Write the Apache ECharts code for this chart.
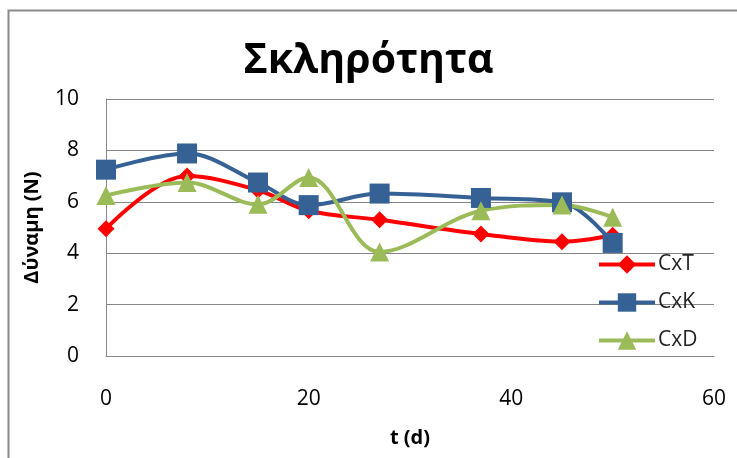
<!DOCTYPE html>
<html><head><meta charset="utf-8">
<script src="https://cdn.jsdelivr.net/npm/echarts@6/dist/echarts.min.js"></script>
<style>html,body{margin:0;padding:0;background:#fff}#c{width:737px;height:458px}</style>
</head><body><div id="c"></div>
<script>
const days = [0, 8, 15, 20, 27, 37, 45, 50];
const cxT = [4.95, 7.0, 6.45, 5.65, 5.3, 4.75, 4.45, 4.7];
const cxK = [7.25, 7.88, 6.75, 5.87, 6.32, 6.15, 5.98, 4.4];
const cxD = [6.25, 6.75, 5.9, 6.95, 4.05, 5.65, 5.88, 5.4];
const seriesNames = ['CxT', 'CxK', 'CxD'];
const xTicks = [0, 20, 40, 60];
const yTicks = [0, 2, 4, 6, 8, 10];

const font = "'Open Sans', 'Noto Sans', sans-serif";
function pairs(v){ return days.map((d,i)=>[d, v[i]]); }
const chart = echarts.init(document.getElementById('c'), null, {renderer:'canvas'});
const mk = (name, data, color, symbol, size) => ({
  name, type:'line', data: pairs(data), smooth:0.35, symbol, symbolSize:size,
  lineStyle:{color, width:4}, itemStyle:{color, borderWidth:0}
});
chart.setOption({
  animation:false,
  graphic:[{type:'rect', shape:{x:8.5,y:10.5,width:760,height:470}, style:{fill:'none', stroke:'#8a8a8a', lineWidth:2}}],
  title:{text:'Σκληρότητα', left:'center', top:36, textStyle:{fontFamily:font, fontSize:41, fontWeight:'bold', color:'#000'}},
  grid:{left:106, right:23, top:99, bottom:102},
  xAxis:{type:'value', min:xTicks[0], max:xTicks[xTicks.length-1], interval:20,
    name:'t (d)', nameLocation:'middle', nameGap:72,
    nameTextStyle:{fontFamily:font, fontSize:20, fontWeight:'bold', color:'#000'},
    axisLine:{show:true, lineStyle:{color:'#868686', width:1}}, axisTick:{show:false},
    splitLine:{show:false},
    axisLabel:{fontFamily:font, fontSize:21, color:'#000', margin:33}},
  yAxis:{type:'value', min:yTicks[0], max:yTicks[yTicks.length-1], interval:2,
    name:'Δύναμη (N)', nameLocation:'middle', nameGap:64, nameRotate:90,
    nameTextStyle:{fontFamily:font, fontSize:20, fontWeight:'bold', color:'#000'},
    axisLine:{show:true, lineStyle:{color:'#868686', width:1}}, axisTick:{show:false},
    splitLine:{show:true, lineStyle:{color:'#868686', width:1}},
    axisLabel:{fontFamily:font, fontSize:21, color:'#000', margin:27}},
  legend:{orient:'vertical', left:592, top:249, itemWidth:56, itemHeight:23, itemGap:17,
    data:seriesNames, lineStyle:{width:4},
    textStyle:{fontFamily:font, fontSize:21, color:'#222', padding:[0,0,0,-2]}},
  series:[
    mk(seriesNames[0], cxT, '#FF0000', 'diamond', 17),
    mk(seriesNames[1], cxK, '#366194', 'rect', 20),
    mk(seriesNames[2], cxD, '#9BBB59', 'triangle', 19)
  ]
});
</script></body></html>
